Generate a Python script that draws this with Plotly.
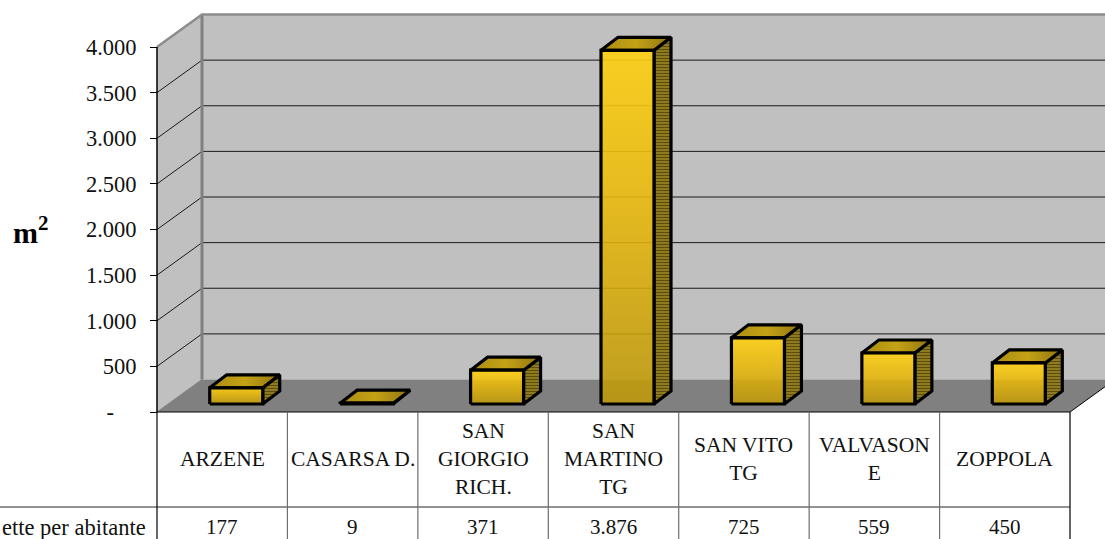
import plotly.graph_objects as go

categories = ["ARZENE", "CASARSA D.", "SAN<br>GIORGIO<br>RICH.", "SAN<br>MARTINO<br>TG",
              "SAN VITO<br>TG", "VALVASON<br>E", "ZOPPOLA"]
values = [177, 9, 371, 3876, 725, 559, 450]
value_labels = ["177", "9", "371", "3.876", "725", "559", "450"]
tick_values = [0, 500, 1000, 1500, 2000, 2500, 3000, 3500, 4000]
tick_labels = ["-\u00a0\u00a0\u00a0\u00a0", "500", "1.000", "1.500", "2.000", "2.500", "3.000", "3.500", "4.000"]
row_label = "ette per abitante"
unit_label = "<b>m<sup>2</sup></b>"

W, H = 1105, 539
X0, CAT_W = 157.0, 130.43     # plot left edge / category width, px
Y0, PX_PER_UNIT = 412.0, 0.09125
FONT = "Liberation Serif"

def ux(px):  # width in px -> x units
    return px / CAT_W
def uy(px):  # height in px -> y units
    return px / PX_PER_UNIT

XMIN = -X0 / CAT_W
XMAX = XMIN + W / CAT_W
YMIN = -(H - Y0) / PX_PER_UNIT
YMAX = Y0 / PX_PER_UNIT

n = len(categories)
DX, DY = ux(45), uy(32.5)
YTOP = tick_values[-1]

fig = go.Figure()

def poly(xs, ys, fill=None, line="rgba(0,0,0,0)", width=0, **kw):
    fig.add_trace(go.Scatter(x=xs, y=ys, mode="lines", fill="toself" if (fill or kw) else None,
                             fillcolor=fill, line=dict(color=line, width=width),
                             hoverinfo="skip", showlegend=False, **kw))

def seg(xs, ys, color, width):
    fig.add_trace(go.Scatter(x=xs, y=ys, mode="lines", line=dict(color=color, width=width),
                             hoverinfo="skip", showlegend=False))

# walls and floor
poly([0, DX, DX, 0, 0], [0, DY, YTOP + DY, YTOP, 0], fill="#c0c0c0")
poly([DX, n + DX, n + DX, DX, DX], [DY, DY, YTOP + DY, YTOP + DY, DY], fill="#c0c0c0")
for t in tick_values[1:-1]:
    seg([0, DX, n + DX], [t, t + DY, t + DY], "#1a1a1a", 1)
poly([0, n, n + DX, DX, 0], [0, 0, DY, DY, 0], fill="#808080")
seg([DX, DX], [DY, YTOP + DY], "#808080", 3)
seg([0, DX, n + DX], [YTOP, YTOP + DY, YTOP + DY], "#8c8c8c", 2.5)
seg([0, DX], [0, DY], "#808080", 1)
seg([n, n + DX], [0, DY], "#000000", 1)

# bars
BW = ux(53)
BASE_X, BASE_Y = ux(14), uy(8)
BDX, BDY = ux(17), uy(13)
for i, v in enumerate(values):
    c = i + 0.5
    xl, xr = c + BASE_X - BW / 2, c + BASE_X + BW / 2
    b, t = BASE_Y, BASE_Y + v
    # side
    poly([xr, xr + BDX, xr + BDX, xr, xr], [b, b + BDY, t + BDY, t, b],
         fillpattern=dict(shape="-", bgcolor="#93801f", fgcolor="#5c4c10", size=3, solidity=0.4, fillmode="replace"),
         line="#000000", width=3.2)
    # top
    poly([xl, xr, xr + BDX, xl + BDX, xl], [t, t, t + BDY, t + BDY, t],
         fillgradient=dict(type="horizontal", colorscale=[[0, "#a98c12"], [0.5, "#c4a216"], [1, "#8f7510"]]),
         line="#000000", width=3.2)
    # front
    poly([xl, xr, xr, xl, xl], [b, b, t, t, b],
         fillgradient=dict(type="vertical", colorscale=[[0, "rgba(190,152,10,0.88)"], [0.55, "rgba(232,184,10,0.88)"], [1, "rgba(255,208,16,0.9)"]]),
         line="#000000", width=3.2)

# value axis line
seg([0, 0], [0, YTOP], "#000000", 1.5)

# data table
Y_ROW = -uy(507 - Y0)
seg([XMIN, n], [Y_ROW, Y_ROW], "#6e6e6e", 1.5)
seg([0, n], [0, 0], "#000000", 1.2)
seg([0, 0], [YMIN, 0], "#000000", 1.2)
seg([n, n], [YMIN, 0], "#000000", 1.2)
for i in range(1, n):
    seg([i, i], [YMIN, 0], "#6e6e6e", 1.2)

for i, (cat, lab) in enumerate(zip(categories, value_labels)):
    fig.add_annotation(x=i + 0.5, y=-uy(459 - Y0), text=cat, showarrow=False,
                       font=dict(family=FONT, size=21.5, color="#111111"), xanchor="center", yanchor="middle")
    fig.add_annotation(x=i + 0.5, y=-uy(527 - Y0), text=lab, showarrow=False,
                       font=dict(family=FONT, size=21, color="#111111"), xanchor="center", yanchor="middle")

fig.add_annotation(x=-ux(9), y=-uy(527 - Y0), text=row_label, showarrow=False, xanchor="right", yanchor="middle",
                   font=dict(family=FONT, size=22.5, color="#111111"))
fig.add_annotation(x=XMIN + ux(31), y=-uy(230 - Y0), text=unit_label, showarrow=False, xanchor="center", yanchor="middle",
                   font=dict(family=FONT, size=30, color="#000000"))

fig.update_layout(
    width=W, height=H, margin=dict(l=0, r=0, t=0, b=0), autosize=False,
    paper_bgcolor="#ffffff", plot_bgcolor="#ffffff", showlegend=False,
    font=dict(family=FONT, color="#111111"),
    xaxis=dict(range=[XMIN, XMAX], visible=False, fixedrange=True),
    yaxis=dict(range=[YMIN, YMAX], anchor="free", position=X0 / W, side="left",
               tickmode="array", tickvals=tick_values, ticktext=tick_labels,
               ticks="outside", ticklen=7, tickwidth=1.2, tickcolor="#000000",
               tickfont=dict(family=FONT, size=22.5, color="#111111"),
               ticklabelstandoff=9, showgrid=False, zeroline=False, showline=False, fixedrange=True),
)

fig.write_html("out.html", config=dict(displayModeBar=False),
               post_script="document.body.style.margin='0';document.body.style.overflow='hidden';")
